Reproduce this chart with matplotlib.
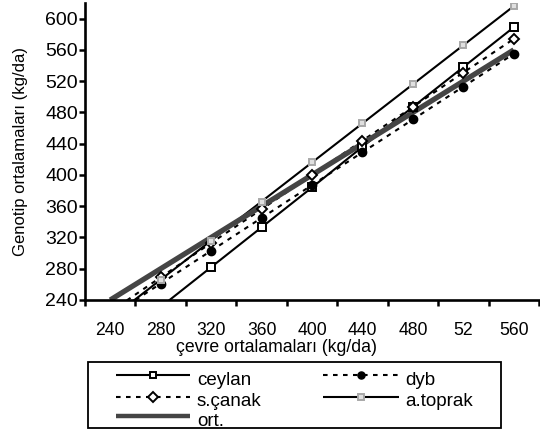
import matplotlib
matplotlib.use("Agg")
import matplotlib.pyplot as plt
from matplotlib.lines import Line2D
from matplotlib.patches import Rectangle

plt.rcParams['font.family'] = ['Liberation Sans', 'DejaVu Sans']

categories = ['240', '280', '320', '360', '400', '440', '480', '52', '560']
ceylan = [180, 231, 282, 333, 384, 436, 487, 538, 589]
dyb = [219, 261, 303, 345, 387, 429, 471, 513, 555]
scanak = [225, 269, 313, 356, 400, 444, 487, 531, 574]
atoprak = [216, 266, 316, 366, 416, 466, 516, 566, 616]
ort = [240, 280, 320, 360, 400, 440, 480, 520, 560]
yticks = [240, 280, 320, 360, 400, 440, 480, 520, 560, 600]

W, H = 540, 429
fig = plt.figure(figsize=(W / 100, H / 100), dpi=100)

def fx(x):
    return x / W

def fy(y):
    return 1 - y / H

ax = fig.add_axes([fx(85), fy(300), (539 - 85) / W, (300 - 3) / H])
xs = list(range(len(categories)))

dash = (0, (2.2, 2.6))
styles = {
    'ceylan': dict(color='black', lw=1.5, ls='-', marker='s', ms=5.5, mfc='white', mec='black', mew=1.4),
    'dyb': dict(color='black', lw=1.5, ls=dash, marker='o', ms=6, mfc='black', mec='black', mew=1.0),
    's.çanak': dict(color='black', lw=1.5, ls=dash, marker='D', ms=5.5, mfc='white', mec='black', mew=1.4),
    'a.toprak': dict(color='black', lw=1.5, ls='-', marker='s', ms=4.5, mfc='#e0e0e0', mec='#a8a8a8', mew=1.4),
    'ort.': dict(color='#454545', lw=3.8, ls='-', marker=None),
}
series = [('ceylan', ceylan), ('dyb', dyb), ('s.çanak', scanak), ('a.toprak', atoprak), ('ort.', ort)]

for name, vals in series:
    st = styles[name]
    ax.plot(xs, vals, color=st['color'], lw=st['lw'], ls=st['ls'], zorder=2,
            solid_capstyle='butt', dash_capstyle='butt')
for name, vals in series:
    st = styles[name]
    if st['marker']:
        ax.plot(xs, vals, ls='none', marker=st['marker'], ms=st['ms'], mfc=st['mfc'],
                mec=st['mec'], mew=st['mew'], zorder=3)

ax.set_xlim(-0.5, len(categories) - 0.5)
ax.set_ylim(240, 620)

ax.set_xticks([i - 0.5 for i in range(len(categories) + 1)])
ax.set_xticklabels([])
ax.set_xticks(xs, minor=True)
ax.set_xticklabels(categories, minor=True, fontsize=12.7)
ax.tick_params(axis='x', which='major', direction='out', length=4, width=1.8)
ax.tick_params(axis='x', which='minor', length=0, pad=16)
ax.set_yticks(yticks)
ax.set_yticklabels([str(v) for v in yticks], fontsize=14)
ax.tick_params(axis='y', direction='out', length=4, width=1.8, pad=1)

for s in ['top', 'right']:
    ax.spines[s].set_visible(False)
for s in ['left', 'bottom']:
    ax.spines[s].set_linewidth(1.9)

fig.text(fx(21), fy(152), 'Genotip ortalamaları (kg/da)', rotation=90, ha='center', va='center', fontsize=12)
fig.text(fx(276), fy(347), 'çevre ortalamaları (kg/da)', ha='center', va='center', fontsize=12.7)

# legend
fig.add_artist(Rectangle((fx(88), fy(428)), (501 - 88) / W, (428 - 362) / H,
                         transform=fig.transFigure, fill=False, ec='black', lw=1.3))
entries = [('ceylan', 116, 190, 197, 375), ('s.çanak', 116, 190, 197, 396.5), ('ort.', 116, 190, 197, 416),
           ('dyb', 323, 399, 405, 375), ('a.toprak', 323, 399, 405, 396.5)]
for name, x0, x1, tx, y in entries:
    st = styles[name]
    fig.add_artist(Line2D([fx(x0), fx(x1)], [fy(y), fy(y)], transform=fig.transFigure,
                          color=st['color'], lw=st['lw'] if name != 'ort.' else 3.2, ls=st['ls'],
                          solid_capstyle='butt', dash_capstyle='butt'))
    if st['marker']:
        fig.add_artist(Line2D([fx((x0 + x1) / 2)], [fy(y)], transform=fig.transFigure, ls='none',
                              marker=st['marker'], ms=st['ms'] * 0.85, mfc=st['mfc'], mec=st['mec'], mew=st['mew']))
    fig.text(fx(tx), fy(y + 10), name, ha='left', va='baseline', fontsize=13.5)

fig.savefig('out.png', dpi=100)
